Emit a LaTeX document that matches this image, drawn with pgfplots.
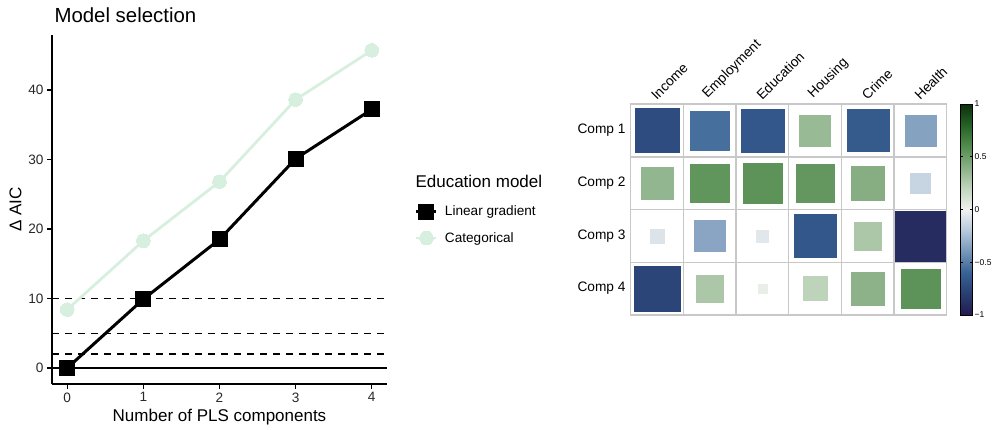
\documentclass[border=0pt]{standalone}
\usepackage{pgfplots}
\usepackage{pgfplotstable}
\pgfplotsset{compat=1.18}
\usepackage{fontspec}
\setmainfont{Liberation Sans}
\definecolor{catcol}{RGB}{214,239,222}
\definecolor{gridgray}{RGB}{200,200,200}
\definecolor{ticktext}{RGB}{40,40,40}

\pgfplotstableread{
x y
0 0
1 9.9
2 18.5
3 30.1
4 37.2
}\linear
\pgfplotstableread{
x y
0 8.4
1 18.3
2 26.8
3 38.6
4 45.7
}\categorical
\pgfplotstableread{
x y v
1 1 -0.72
2 1 -0.55
3 1 -0.66
4 1 0.35
5 1 -0.64
6 1 -0.35
1 2 0.37
2 2 0.55
3 2 0.56
4 2 0.54
5 2 0.41
6 2 -0.14
1 3 -0.07
2 3 -0.34
3 3 -0.05
4 3 -0.66
5 3 0.28
6 3 -0.90
1 4 -0.76
2 4 0.28
3 4 0.03
4 4 0.21
5 4 0.39
6 4 0.56
}\loadings

\begin{document}
\begin{tikzpicture}[x=1pt,y=1pt]
\path[use as bounding box] (0,0) rectangle (992,429);
\begin{axis}[
  at={(52pt,45pt)}, anchor=south west, scale only axis,
  width=335pt, height=349pt,
  xmin=-0.2, xmax=4.2, ymin=-2.3, ymax=47.9,
  axis x line*=bottom, axis y line*=left,
  axis line style={line width=1.3pt, -},
  xtick={0,...,4}, ytick={0,10,...,40},
  tick style={line width=1.3pt, black}, tick align=outside,
  major tick length=5pt,
  ticklabel style={font=\fontsize{13.6}{16}\selectfont, text=ticktext},
  /pgf/number format/assume math mode=true,
  xlabel={Number of PLS components},
  ylabel={Δ AIC},
  label style={font=\fontsize{17}{20}\selectfont},
  legend style={at={(axis description cs:1.074,0.525)}, anchor=north west,
    draw=none, fill=none, font=\fontsize{13.6}{16}\selectfont,
    row sep=9pt, nodes={inner sep=3pt},
    /tikz/every odd column/.append style={column sep=4pt}},
  legend cell align=left,
  legend image code/.code={\draw[mark repeat=2, mark phase=2, #1]
     plot coordinates {(0pt,0pt) (10pt,0pt) (20pt,0pt)};},
  clip=false,
]
\addplot[forget plot, black, line width=1.3pt, dash pattern=on 6.5pt off 6.5pt] coordinates {(-0.2,10) (4.2,10)};
\addplot[forget plot, black, line width=1.3pt, dash pattern=on 6.5pt off 6.5pt] coordinates {(-0.2,5) (4.2,5)};
\addplot[forget plot, black, line width=1.3pt, dash pattern=on 6.5pt off 6.5pt] coordinates {(-0.2,2) (4.2,2)};
\addplot[forget plot, black, line width=1.3pt] coordinates {(-0.2,0) (4.2,0)};
\addplot[black, line width=3pt, mark=square*, mark size=7.5pt, mark options={solid, line width=0pt}] table[x=x,y=y] {\linear};
\addlegendentry{Linear gradient}
\addplot[catcol, line width=2.8pt, mark=*, mark size=6.8pt, mark options={solid, line width=0pt}] table[x=x,y=y] {\categorical};
\addlegendentry{Categorical}
\end{axis}
\node[anchor=base west, font=\fontsize{20.4}{24}\selectfont] at (51,406) {Model selection};
\node[anchor=base west, font=\fontsize{17}{20}\selectfont] at (412,242) {Education model};

\begin{axis}[
  at={(630.7pt,114pt)}, anchor=south west, scale only axis,
  width=316pt, height=211pt,
  xmin=0.5, xmax=6.5, ymin=0.5, ymax=4.5, y dir=reverse,
  xtick={1,...,6}, xticklabels={Income,Employment,Education,Housing,Crime,Health},
  ytick={1,...,4}, yticklabels={Comp 1,Comp 2,Comp 3,Comp 4},
  xticklabel pos=right,
  major tick length=0pt, minor tick length=0pt,
  minor xtick={1.5,2.5,3.5,4.5,5.5}, minor ytick={1.5,2.5,3.5},
  grid=minor, minor grid style={gridgray, line width=1.5pt},
  axis line style={gridgray, line width=1.5pt},
  ticklabel style={font=\fontsize{13.7}{16}\selectfont, text=black},
  xticklabel style={rotate=45, anchor=south west, inner sep=2pt},
  yticklabel style={inner sep=5pt},
  colormap={corr}{rgb255=(36,26,78) rgb255=(40,62,114) rgb255=(56,98,148) rgb255=(118,150,185) rgb255=(182,200,219) rgb255=(240,242,240) rgb255=(192,214,190) rgb255=(138,176,134) rgb255=(82,140,78) rgb255=(38,98,38) rgb255=(12,48,12)},
  point meta min=-1, point meta max=1,
  colorbar,
  colorbar style={
    at={(parent axis.north east)}, anchor=north west, xshift=5pt,
    scale only axis, width=12.3pt, height=211pt,
    ytick={-1,-0.5,0,0.5,1}, yticklabels={−1,−0.5,0,0.5,1},
    yticklabel style={font=\fontsize{8.5}{10}\selectfont, inner sep=2pt},
    major tick length=2.5pt, tick style={black, line width=0.6pt},
    axis line style={black, line width=0.6pt},
  },
]
\addplot[scatter, only marks, mark=square*, point meta=explicit,
  scatter/use mapped color={draw=mapped color, fill=mapped color},
  visualization depends on={sqrt(abs(\thisrow{v}))*26.2 \as \msize},
  scatter/@pre marker code/.append style={/tikz/mark size=\msize pt},
  mark options={line width=0.3pt}]
  table[x=x, y=y, meta=v] {\loadings};
\end{axis}
\end{tikzpicture}
\end{document}
